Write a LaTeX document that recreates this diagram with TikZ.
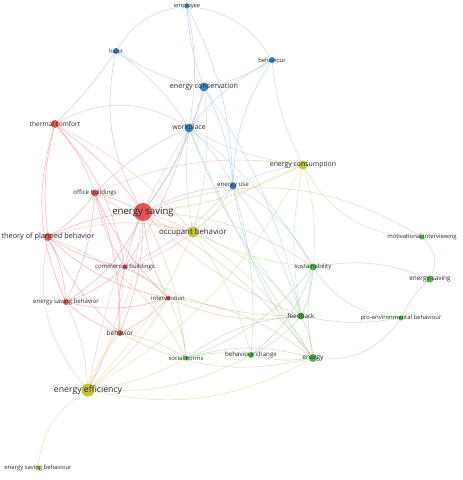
\documentclass[tikz,border=0pt]{standalone}
\usepackage{fontspec}
\setmainfont{Open Sans}
\usetikzlibrary{backgrounds}
\definecolor{cR}{HTML}{E35454}
\definecolor{cB}{HTML}{3D87C8}
\definecolor{cG}{HTML}{4CB848}
\definecolor{cY}{HTML}{C4C43A}
\definecolor{txt}{HTML}{2A2A2A}
\definecolor{eR}{HTML}{F28A8A}
\definecolor{eB}{HTML}{9CC4EE}
\definecolor{eG}{HTML}{9CD894}
\definecolor{eY}{HTML}{DCDC80}
\definecolor{eRB}{HTML}{C8AADA}
\definecolor{eRY}{HTML}{F2BC88}
\definecolor{eRG}{HTML}{DCBC98}
\definecolor{eBY}{HTML}{BAD2B6}
\definecolor{eBG}{HTML}{A0D2CE}
\definecolor{eYG}{HTML}{C4DE90}
\tikzset{
  vnode/.style={circle,inner sep=0pt,minimum size=#1,draw=none},
  lbl/.style={text=txt,inner sep=0pt,font=\fontsize{#1}{#1}\selectfont},
  ed/.style={draw=#1,line width=0.55pt,draw opacity=0.62},
}
\begin{document}
\begin{tikzpicture}[x=1pt,y=-1pt]
\useasboundingbox (0,0) rectangle (463,480);
% nodes: name/x/y/diameter/color
\foreach \n/\x/\y/\d/\c in {
 emp/187/6/5/cB, hab/116/51/6/cB, bhv/272/60/6/cB, econ/204/87/9/cB, wp/189/128/9/cB,
 tc/55/124/8/cR, ecs/303/165/9/cY, eu/233/186/7/cB, ob/95/193/7/cR, es/143/212/18/cR,
 occ/193/232/11/cY, tpb/48/237/8/cR, cb/125/267/5/cR, esb/66/302/6/cR, int/168/298/5/cR,
 beh/120/333/6/cR, sn/186/358/5/cG, ee/88/390/13/cY, esbr/38/468/5/cY, mi/422/237/5/cG,
 sus/313/267/7/cG, esg/430/279/7/cG, fb/301/316/7/cG, pe/401/318/5/cG, bc/251/355/6/cG,
 en/313/358/8/cG}
 \node[vnode=\d pt,fill=\c] (\n) at (\x,\y) {};
% edges
\begin{scope}[on background layer]
\fill[white] (0,0) rectangle (463,480);
\foreach \a/\b/\c/\k in {
 emp/hab/eB/-25, emp/bhv/eB/25, emp/econ/eB/-8, emp/wp/eB/10, emp/eu/eB/12,
 hab/econ/eB/-10, hab/wp/eB/10, bhv/econ/eB/10, bhv/wp/eB/-10, bhv/eu/eB/-15,
 econ/wp/eB/8, econ/eu/eB/10, wp/eu/eB/10,
 econ/fb/eBG/10, wp/fb/eBG/-10, wp/en/eBG/-5, eu/fb/eBG/10, eu/en/eBG/-15, eu/sus/eBG/15, eu/bc/eBG/10, wp/sus/eBG/10,
 hab/tc/eRB/5, hab/es/eRB/-20, tc/wp/eRB/30, wp/es/eRB/8, wp/ob/eRB/-10, wp/cb/eRB/8, econ/es/eRB/10, eu/es/eRB/-10, eu/cb/eRB/10,
 bhv/ecs/eBY/-10, wp/ecs/eBY/-10, eu/ecs/eBY/8, eu/occ/eBY/10, wp/occ/eBY/-8, econ/occ/eBY/10, wp/ee/eBY/-10,
 tc/ob/eR/10, tc/es/eR/8, tc/tpb/eR/-10, tc/cb/eR/15, tc/esb/eR/-20,
 ob/es/eR/5, ob/tpb/eR/10, ob/cb/eR/-10, ob/esb/eR/10, ob/int/eR/-10, ob/beh/eR/10,
 es/tpb/eR/-10, es/cb/eR/-5, es/esb/eR/15, es/int/eR/-10, es/beh/eR/10,
 tpb/cb/eR/-10, tpb/esb/eR/10, tpb/beh/eR/-10, tpb/int/eR/-15,
 cb/esb/eR/10, cb/int/eR/10, cb/beh/eR/-10, esb/beh/eR/-10, esb/int/eR/-15, int/beh/eR/10,
 tc/occ/eRY/10, es/occ/eRY/5, es/ee/eRY/10, es/ecs/eRY/-10, ob/occ/eRY/-10, tpb/ee/eRY/-25,
 tpb/occ/eRY/15, cb/ee/eRY/10, cb/occ/eRY/-10, esb/ee/eRY/10, beh/ee/eRY/-10, int/ee/eRY/10, ob/ecs/eRY/15,
 es/mi/eRG/25, es/sus/eRG/15, es/fb/eRG/-10, es/en/eRG/10, int/sn/eRG/10, int/fb/eRG/-15,
 int/en/eRG/15, beh/sn/eRG/10, beh/en/eRG/-20, tpb/sn/eRG/20, cb/fb/eRG/-15, es/sn/eRG/10,
 ecs/mi/eYG/-30, ee/en/eYG/-20, ee/sn/eYG/-10, ee/bc/eYG/-15, occ/fb/eYG/15, occ/sus/eYG/-10,
 occ/en/eYG/10, occ/bc/eYG/10, ecs/sus/eYG/10, ecs/fb/eYG/-10,
 ee/esbr/eY/-25, ee/occ/eY/-10, ee/ecs/eY/-15, occ/ecs/eY/10,
 mi/esg/eG/35, esg/pe/eG/-10, sus/esg/eG/15, sus/pe/eG/-25, sus/fb/eG/10, sus/en/eG/-10,
 sus/bc/eG/15, sus/sn/eG/15, fb/en/eG/10, fb/bc/eG/10, fb/sn/eG/-15, fb/pe/eG/-10,
 en/pe/eG/-30, en/bc/eG/10, en/sn/eG/-15, bc/sn/eG/-10}
 \draw[ed=\c] (\a) to[bend left=\k] (\b);
\end{scope}
% labels
\node[lbl=5.8] (emp-l) at (emp) {employee};
\node[lbl=5.8] (hab-l) at (hab) {habit};
\node[lbl=5.8] (bhv-l) at (bhv) {behaviour};
\node[lbl=7.2] (econ-l) at (econ) {energy conservation};
\node[lbl=7] (wp-l) at (wp) {workplace};
\node[lbl=6.6] (tc-l) at (tc) {thermal comfort};
\node[lbl=6.9] (ecs-l) at (ecs) {energy consumption};
\node[lbl=6.2] (eu-l) at (eu) {energy use};
\node[lbl=6.1] (ob-l) at (ob) {office buildings};
\node[lbl=9.6] (es-l) at (es) {energy saving};
\node[lbl=7.8] (occ-l) at (occ) {occupant behavior};
\node[lbl=7.3] (tpb-l) at (tpb) {theory of planned behavior};
\node[lbl=6] (cb-l) at (cb) {commercial buildings};
\node[lbl=6.1] (esb-l) at (esb) {energy saving behavior};
\node[lbl=5.9] (int-l) at (int) {intervention};
\node[lbl=6.5] (beh-l) at (beh) {behavior};
\node[lbl=5.9] (sn-l) at (sn) {social norms};
\node[lbl=8.7] (ee-l) at (ee) {energy efficiency};
\node[lbl=5.9] (esbr-l) at (esbr) {energy saving behaviour};
\node[lbl=5.9] (mi-l) at (mi) {motivational interviewing};
\node[lbl=6] (sus-l) at (sus) {sustainability};
\node[lbl=6.4] (esg-l) at (esg) {energy-saving};
\node[lbl=6.4] (fb-l) at (fb) {feedback};
\node[lbl=5.9] (pe-l) at (pe) {pro-environmental behaviour};
\node[lbl=6.2] (bc-l) at (bc) {behaviour change};
\node[lbl=6.6] (en-l) at (en) {energy};
\end{tikzpicture}
\end{document}
